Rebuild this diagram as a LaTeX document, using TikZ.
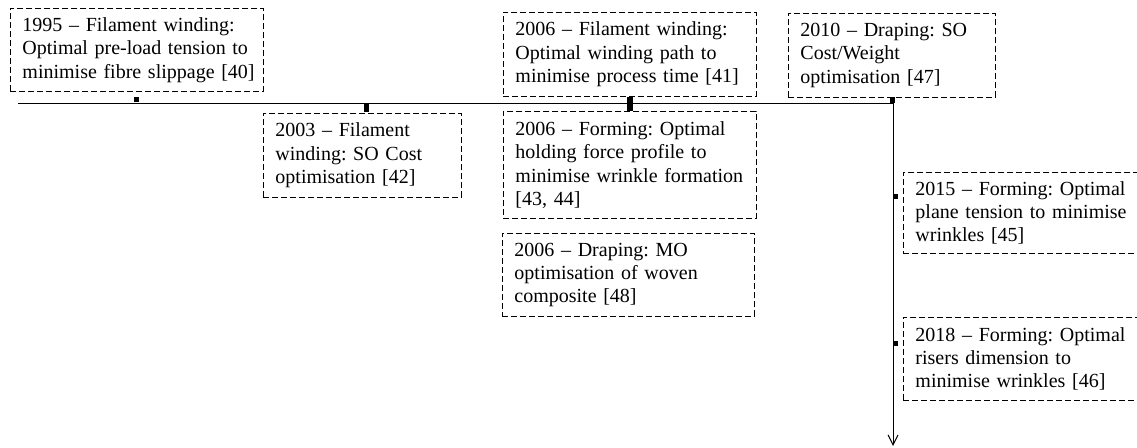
\documentclass[tikz,border=0pt]{standalone}
\usepackage{fontspec}
\setmainfont{Liberation Serif}
\usetikzlibrary{arrows.meta}
\frenchspacing
\tikzset{
  tbox/.style={draw, dash pattern=on 6pt off 3pt, line width=0.9pt, anchor=north west,
    align=left, inner xsep=12pt, inner ysep=3pt, font=\fontsize{20}{23.3}\selectfont\frenchspacing},
  tick/.style={fill=black, draw=none, inner sep=0pt, anchor=north west},
  tl/.style={line width=1pt}
}
\begin{document}
\begin{tikzpicture}[x=1pt,y=-1pt]
\clip (0,0) rectangle (1137,447);
\fill[white] (0,0) rectangle (1137,447);
% boxes
\node[tbox, text width=229pt, minimum height=83pt] (b1995) at (10,8)
  {\mbox{1995 -- Filament winding:}\\\mbox{Optimal pre-load tension to}\\\mbox{minimise fibre slippage [40]}};
\node[tbox, text width=174pt, minimum height=84pt] (b2003) at (263,113)
  {\mbox{2003 -- Filament}\\\mbox{winding: SO Cost}\\\mbox{optimisation [42]}};
\node[tbox, text width=229pt, minimum height=84pt] (b2006a) at (503,12)
  {\mbox{2006 -- Filament winding:}\\\mbox{Optimal winding path to}\\\mbox{minimise process time [41]}};
\node[tbox, text width=229pt, minimum height=107pt] (b2006b) at (503,111)
  {\mbox{2006 -- Forming: Optimal}\\\mbox{holding force profile to}\\\mbox{minimise wrinkle formation}\\\mbox{[43, 44]}};
\node[tbox, text width=228pt, minimum height=83pt] (b2006c) at (502,233)
  {\mbox{2006 -- Draping: MO}\\\mbox{optimisation of woven}\\\mbox{composite [48]}};
\node[tbox, text width=183pt, minimum height=84pt] (b2010) at (788,13)
  {\mbox{2010 -- Draping: SO}\\\mbox{Cost/Weight}\\\mbox{optimisation [47]}};
\node[tbox, text width=229pt, minimum height=81pt] (b2015) at (903,172)
  {\mbox{2015 -- Forming: Optimal}\\\mbox{plane tension to minimise}\\\mbox{wrinkles [45]}};
\node[tbox, text width=229pt, minimum height=83pt] (b2018) at (903,317)
  {\mbox{2018 -- Forming: Optimal}\\\mbox{risers dimension to}\\\mbox{minimise wrinkles [46]}};
% timeline
\coordinate (start) at (18,103);
\coordinate (corner) at (893,103);
\coordinate (finish) at (893,446);
\draw[tl, -{Straight Barb[length=10pt,width=10pt]}] (start) -- (corner) -- (finish);
% ticks
\node[tick, minimum width=5pt, minimum height=5pt] (t1995) at (134,97) {};
\node[tick, minimum width=5pt, minimum height=8pt] (t2003) at (364,104) {};
\node[tick, minimum width=6pt, minimum height=14pt] (t2006) at (627,97) {};
\node[tick, minimum width=5pt, minimum height=6pt] (t2010) at (890,97) {};
\node[tick, minimum width=5pt, minimum height=5pt] (t2015) at (893,194) {};
\node[tick, minimum width=5pt, minimum height=5pt] (t2018) at (893,341) {};
\end{tikzpicture}
\end{document}
